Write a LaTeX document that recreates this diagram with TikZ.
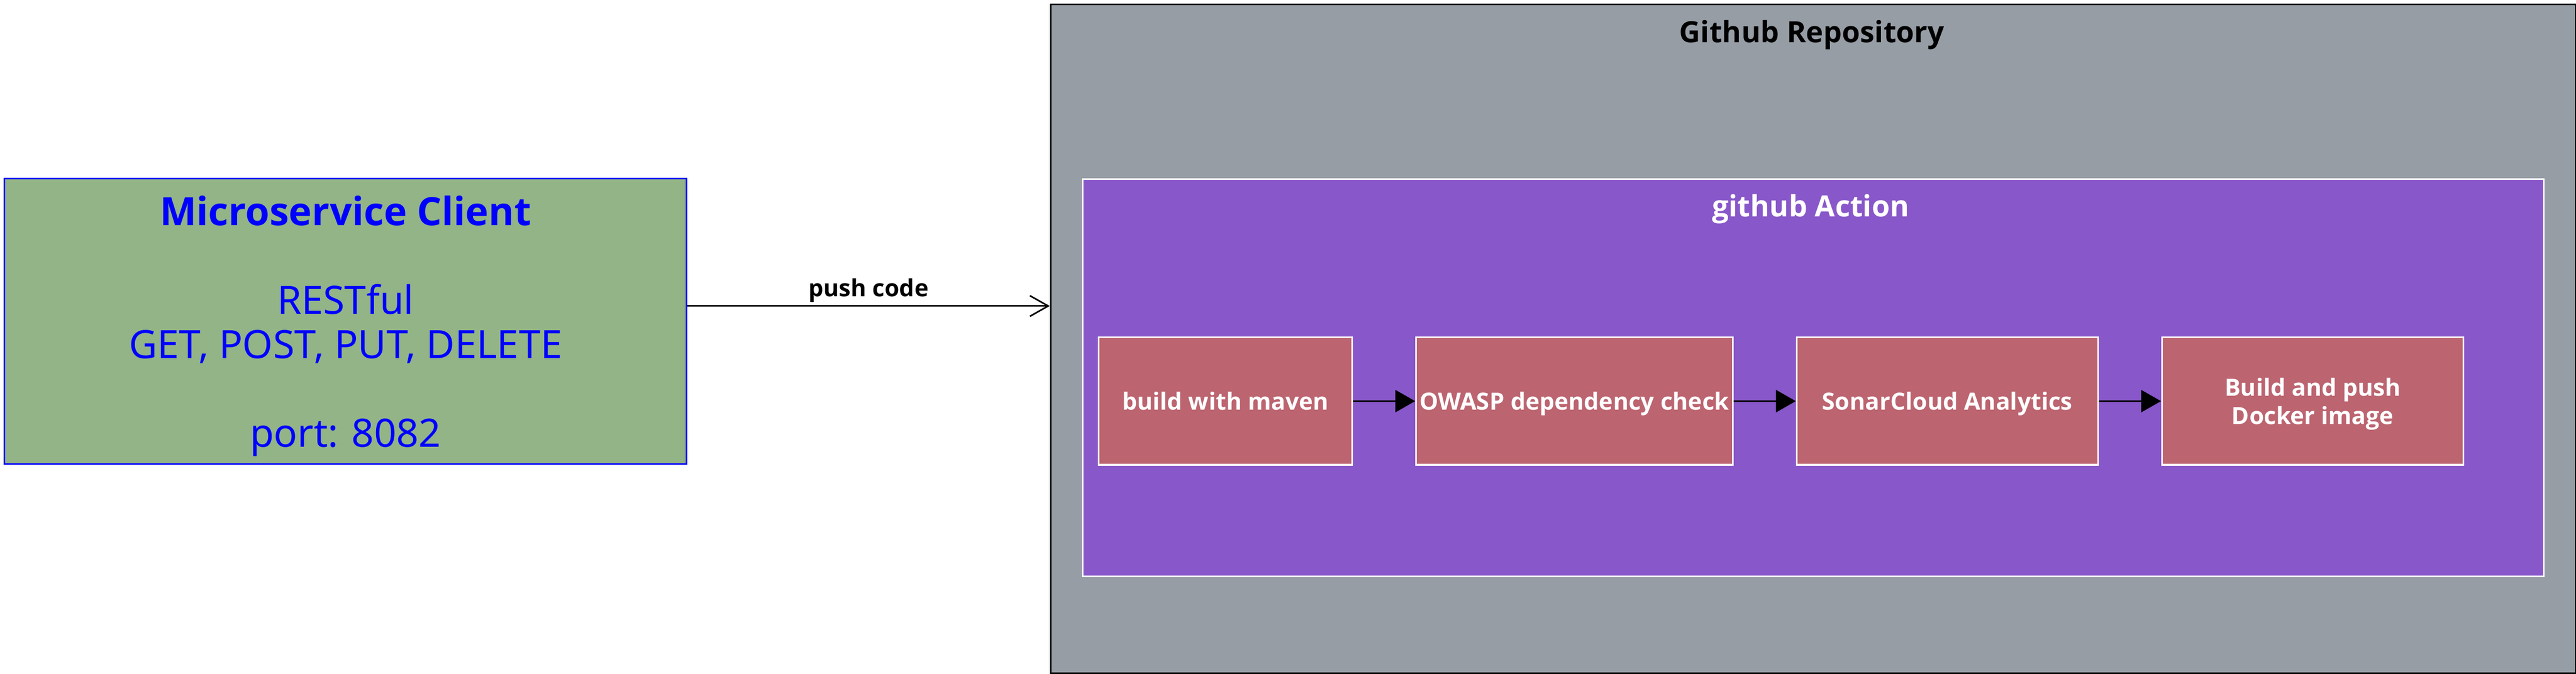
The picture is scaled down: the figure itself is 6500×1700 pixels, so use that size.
\documentclass[tikz,border=0pt]{standalone}
\usepackage{fontspec}
\setmainfont{Noto Sans}
\newfontfamily\headsans{Open Sans}
\usetikzlibrary{positioning,arrows.meta}
\definecolor{repogray}{RGB}{150,157,165}
\definecolor{actionpurple}{RGB}{136,87,201}
\definecolor{stagered}{RGB}{188,100,112}
\definecolor{clientgreen}{RGB}{147,180,135}
\definecolor{clientblue}{RGB}{0,0,255}
\begin{document}
\begin{tikzpicture}[
  x=0.01cm, y=-0.01cm,
  stage/.style={rectangle, draw=white, line width=1.13pt, fill=stagered, text=white,
    font=\fontsize{17}{20.1}\selectfont\headsans\bfseries, align=center, inner sep=0pt,
    minimum height=3.21cm, text depth=0pt},
  container/.style={rectangle, line width=1.13pt, inner sep=0pt},
  node distance=1.57cm
]
\useasboundingbox (0,0) rectangle (6500,1700);

\node[container, draw=clientblue, fill=clientgreen, text=clientblue, minimum width=17.2cm, minimum height=7.2cm,
  font=\fontsize{28}{31.75}\selectfont, align=center, text depth=0pt] (client) at (872,811)
  {{\headsans\bfseries Microservice Client}\\[31.75pt]RESTful\\GET, POST, PUT, DELETE\\[31.75pt]port: 8082};

\node[container, draw=black, fill=repogray, minimum width=38.46cm, minimum height=16.86cm] (repo) at (4575,855) {};
\node[font=\fontsize{21}{25}\selectfont\headsans\bfseries, anchor=base] (repotitle) at (4572,107) {Github Repository};

\node[container, draw=white, fill=actionpurple, minimum width=36.85cm, minimum height=10.02cm] (action) at (4575,953) {};
\node[font=\fontsize{21}{25}\selectfont\headsans\bfseries, text=white, anchor=base] (actiontitle) at (4569,546) {github Action};

\node[stage, minimum width=6.39cm] (maven) at (3092,1012) {build with maven};
\node[stage, minimum width=7.99cm, right=of maven] (owasp) {OWASP dependency check};
\node[stage, minimum width=7.60cm, right=of owasp] (sonar) {SonarCloud Analytics};
\node[stage, minimum width=7.61cm, right=of sonar] (docker) {Build and push\\Docker image};

\draw[line width=1.13pt, -{Straight Barb[length=0.46cm, width=0.52cm, line width=1.13pt]}]
  ([yshift=0.39cm]client.east) -- ([yshift=0.39cm]client.east -| repo.west)
  node[midway, above, inner sep=2pt, font=\fontsize{17}{20}\selectfont\headsans\bfseries] (pushlabel) {push code};

\draw[line width=1.13pt, -{Triangle[length=0.5cm, width=0.56cm]}] (maven) -- (owasp);
\draw[line width=1.13pt, -{Triangle[length=0.5cm, width=0.56cm]}] (owasp) -- (sonar);
\draw[line width=1.13pt, -{Triangle[length=0.5cm, width=0.56cm]}] (sonar) -- (docker);
\end{tikzpicture}
\end{document}
